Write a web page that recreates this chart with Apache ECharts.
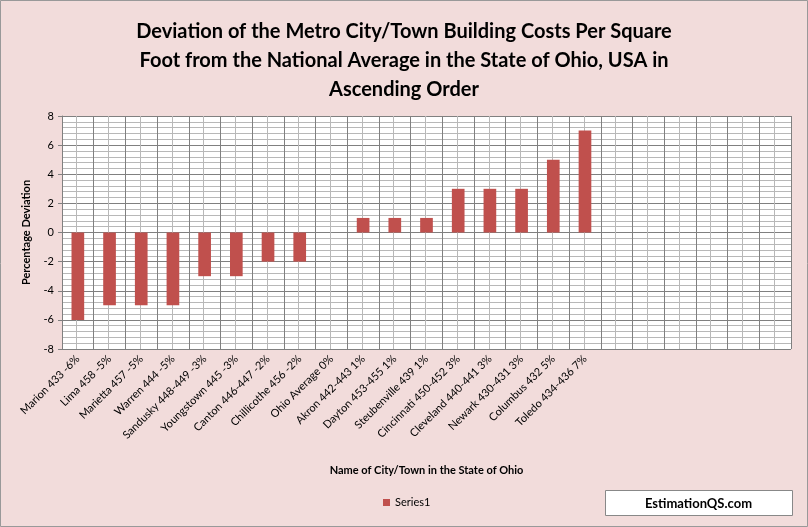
<!DOCTYPE html>
<html><head><meta charset="utf-8">
<script src="https://cdn.jsdelivr.net/npm/echarts@6/dist/echarts.min.js"></script>
<style>html,body{margin:0;padding:0;background:#f2dcdb}#c{width:808px;height:527px}</style>
</head><body><div id="c"></div>
<script>
const categories = ["Marion 433 -6%","Lima 458 -5%","Marietta 457 -5%","Warren 444 -5%","Sandusky 448-449 -3%","Youngstown 445 -3%","Canton 446-447 -2%","Chillicothe 456 -2%","Ohio Average 0%","Akron 442-443 1%","Dayton 453-455 1%","Steubenville 439 1%","Cincinnati 450-452 3%","Cleveland 440-441 3%","Newark 430-431 3%","Columbus 432 5%","Toledo 434-436 7%","","","","","",""];
const values = [-6,-5,-5,-5,-3,-3,-2,-2,0,1,1,1,3,3,3,5,7];
const chart = echarts.init(document.getElementById('c'));
chart.setOption({
  backgroundColor:'#f2dcdb',
  animation:false,
  title:{text:'Deviation of the Metro City/Town Building Costs Per Square\nFoot from the National Average in the State of Ohio, USA in\nAscending Order',
    left:'center',top:12,textStyle:{fontFamily:'Lato',fontWeight:'bold',fontSize:20,lineHeight:29,color:'#000'}},
  grid:{left:62,right:17,top:116,bottom:178,show:true,backgroundColor:'#fff',borderWidth:0},
  xAxis:{type:'category',data:categories,
    name:'Name of City/Town in the State of Ohio',nameLocation:'middle',nameGap:116,
    nameTextStyle:{fontFamily:'Lato',fontWeight:'bold',fontSize:11,color:'#000'},
    axisLine:{lineStyle:{color:'#808080'}},axisTick:{show:false},
    axisLabel:{rotate:45,interval:0,fontFamily:'Lato',fontSize:11,color:'#000',margin:8},
    splitLine:{show:true,lineStyle:{color:'#808080',width:1}}},
  yAxis:[{type:'value',min:-8,max:8,interval:0.4,z:0,
    axisLine:{show:false},axisTick:{show:false},axisLabel:{show:false},
    splitLine:{lineStyle:{color:'#b8b8b8'}}},
    {type:'value',min:-8,max:8,interval:2,position:'left',z:1,
    name:'Percentage Deviation',nameLocation:'middle',nameGap:30,
    nameTextStyle:{fontFamily:'Lato',fontWeight:'bold',fontSize:11,color:'#000'},
    axisLine:{show:true,lineStyle:{color:'#808080'}},axisTick:{show:true,length:4,lineStyle:{color:'#808080'}},
    axisLabel:{fontFamily:'Lato',fontSize:11,color:'#000'},
    splitLine:{show:true,lineStyle:{color:'#808080'}}}],
  legend:{bottom:14,left:378,itemWidth:7,itemHeight:7,icon:'rect',data:['Series1'],textStyle:{fontFamily:'Lato',fontSize:11,color:'#000'}},
  graphic:[
    {type:'rect',shape:{x:0.5,y:0.5,width:807,height:526},style:{fill:'none',stroke:'#999'}},
    {type:'group',left:605,top:490,children:[
      {type:'rect',shape:{width:187,height:25},style:{fill:'#fff',stroke:'#888'}},
      {type:'text',style:{text:'EstimationQS.com',x:93,y:13,align:'center',verticalAlign:'middle',font:'bold 13px Lato',fill:'#000'}}]}
  ],
  series:[
    {type:'bar',name:'grid',data:[],yAxisIndex:1,z:1,silent:true,markLine:{silent:true,symbol:'none',label:{show:false},data:categories.map((c,i)=>({xAxis:i})),lineStyle:{color:'#b8b8b8',type:'solid',width:1}}},
    {type:'bar',name:'Series1',data:values,yAxisIndex:1,zlevel:1,z:5,barWidth:'40%',barGap:'-100%',itemStyle:{color:'#c0504d',opacity:1}}
  ]
});
</script></body></html>
